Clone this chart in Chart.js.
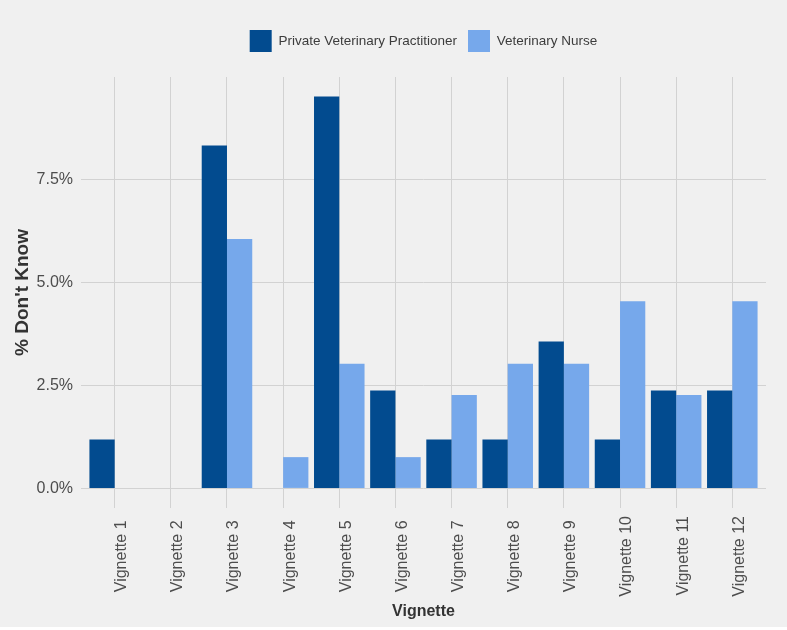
<!DOCTYPE html>
<html>
<head>
<meta charset="utf-8">
<script src="https://cdn.jsdelivr.net/npm/chart.js@4.4.1/dist/chart.umd.min.js"></script>
<style>
  html, body { margin: 0; padding: 0; background: #ffffff; }
  #wrap { width: 787px; height: 627px; background: #F0F0F0; }
  canvas { display: block; }
</style>
</head>
<body>
<div id="wrap"><canvas id="c" width="787" height="627"></canvas></div>
<script>
// ---- data ----
const categories = ["Vignette 1","Vignette 2","Vignette 3","Vignette 4","Vignette 5","Vignette 6",
                    "Vignette 7","Vignette 8","Vignette 9","Vignette 10","Vignette 11","Vignette 12"];
const seriesNames = ["Private Veterinary Practitioner", "Veterinary Nurse"];
const practitionerPct = [1.19, 0, 8.33, 0, 9.52, 2.38, 1.19, 1.19, 3.57, 1.19, 2.38, 2.38];
const nursePct        = [0, 0, 6.06, 0.76, 3.03, 0.76, 2.27, 3.03, 3.03, 4.55, 2.27, 4.55];
const yTickValues = [0, 2.5, 5.0, 7.5];
const yTitle = "% Don't Know";
const xTitle = "Vignette";

const FONT = "'Liberation Sans', Arial, Helvetica, sans-serif";
const GRID = "#D2D2D2";
const maxVal = Math.max(...practitionerPct, ...nursePct);
const expand = maxVal * 0.05;

// pad shorter labels so rotated labels are centred like the reference
const maxLen = Math.max(...categories.map(s => s.length));
const padLabel = s => s + " ".repeat(maxLen - s.length);

const toPoints = arr => arr.map((v, i) => ({ x: i + 1, y: v }));

new Chart(document.getElementById('c'), {
  type: 'bar',
  data: {
    datasets: [
      { label: seriesNames[0], data: toPoints(practitionerPct), backgroundColor: '#024B8F', xAxisID: 'x', yAxisID: 'y',
        categoryPercentage: 0.9, barPercentage: 1.0 },
      { label: seriesNames[1], data: toPoints(nursePct), backgroundColor: '#76A8EB', xAxisID: 'x', yAxisID: 'y',
        categoryPercentage: 0.9, barPercentage: 1.0 }
    ]
  },
  options: {
    responsive: false,
    animation: false,
    layout: { padding: { top: 19, right: 21, left: 0, bottom: 0 } },
    plugins: {
      tooltip: { enabled: false },
      legend: {
        position: 'top',
        fullSize: false,
        labels: {
          boxWidth: 22, boxHeight: 22, padding: 11,
          color: '#3C3C3C',
          font: { family: FONT, size: 13.5 }
        }
      }
    },
    scales: {
      x: {
        type: 'linear',
        position: 'bottom',
        offset: false,
        min: 0.4, max: categories.length + 0.6,
        afterBuildTicks: s => { s.ticks = categories.map((_, i) => ({ value: i + 1 })); },
        afterFit: s => { s.height = 119; },
        grid: { color: GRID, lineWidth: 1, drawTicks: false, offset: false },
        border: { display: false },
        ticks: {
          autoSkip: false, minRotation: 90, maxRotation: 90, padding: 8, labelOffset: 7,
          color: '#4D4D4D', font: { family: FONT, size: 16 },
          callback: v => padLabel(categories[Math.round(v) - 1] || '')
        },
        title: { display: true, text: xTitle, color: '#333333',
                 font: { family: FONT, size: 16, weight: 'bold' }, padding: { top: 0, bottom: 6 } }
      },
      xTop: {
        type: 'linear', position: 'top', display: true,
        grid: { display: false, drawTicks: false },
        border: { display: false },
        ticks: { display: false },
        afterFit: s => { s.height = 15; }
      },
      y: {
        type: 'linear',
        min: -expand, max: maxVal + expand,
        afterBuildTicks: s => { s.ticks = yTickValues.map(v => ({ value: v })); },
        afterFit: s => { s.width = 81; },
        grid: { color: GRID, lineWidth: 1, drawTicks: false },
        border: { display: false },
        ticks: {
          padding: 8, color: '#4D4D4D', font: { family: FONT, size: 16 },
          callback: v => v.toFixed(1) + '%'
        },
        title: { display: true, text: yTitle, color: '#333333',
                 font: { family: FONT, size: 19, weight: 'bold' }, padding: { top: 11, bottom: 0 } }
      }
    }
  }
});
</script>
</body>
</html>
